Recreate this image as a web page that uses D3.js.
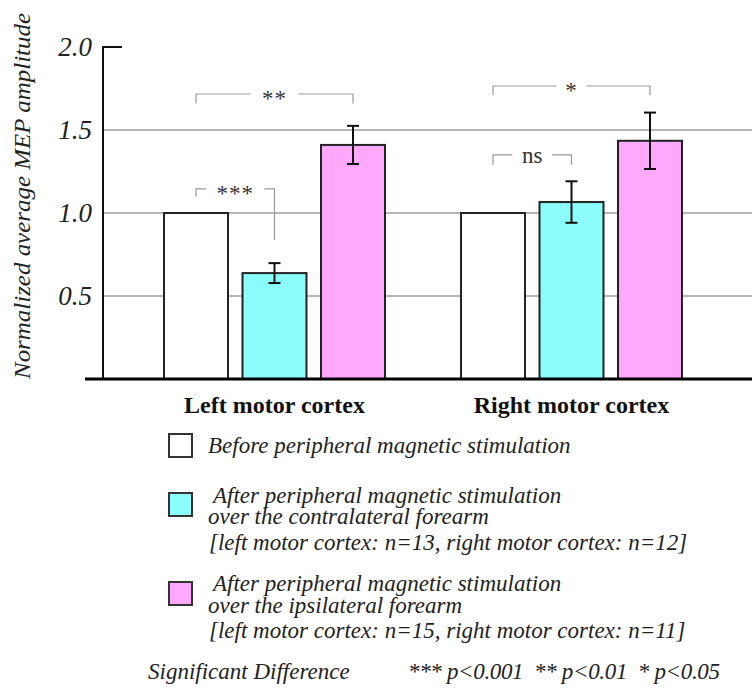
<!DOCTYPE html>
<html>
<head>
<meta charset="utf-8">
<script src="https://cdn.jsdelivr.net/npm/d3@7"></script>
<style>
  body { margin: 0; background: #ffffff; }
</style>
</head>
<body>
<div class="container"></div>
<script>
const width = 752;
const height = 688;
const serif = "'Liberation Serif'";

// data
const cortices = ["Left motor cortex", "Right motor cortex"];
const conditions = ["before", "contra", "ipsi"];
const leftValues = [1.0, 0.638, 1.41];
const leftErrors = [0, 0.06, 0.115];
const rightValues = [1.0, 1.066, 1.435];
const rightErrors = [0, 0.125, 0.17];
const yTicks = [0.5, 1.0, 1.5, 2.0];
const colors = ["#ffffff", "#8cfdfd", "#ffa8fd"];

// significance brackets: [cortex, from, to, level, left leg end, right leg end, label]
const brackets = [
    ["Left motor cortex", "before", "ipsi", 1.717, 1.66, 1.66, "**"],
    ["Left motor cortex", "before", "contra", 1.145, 1.10, 0.837, "***"],
    ["Right motor cortex", "before", "ipsi", 1.765, 1.71, 1.71, "*"],
    ["Right motor cortex", "before", "contra", 1.35, 1.29, 1.29, "ns"]
];

const legendLines = [
    ["Before peripheral magnetic stimulation"],
    ["After peripheral magnetic stimulation", "over the contralateral forearm", "[left motor cortex: n=13, right motor cortex: n=12]"],
    ["After peripheral magnetic stimulation", "over the ipsilateral forearm", "[left motor cortex: n=15, right motor cortex: n=11]"]
];

let bars = [];
cortices.forEach((c, i) => {
    const vals = i == 0 ? leftValues : rightValues;
    const errs = i == 0 ? leftErrors : rightErrors;
    conditions.forEach((k, j) => {
        bars.push({ cortex: c, cond: k, value: vals[j], err: errs[j], color: colors[j] });
    });
});

const svg = d3.select(".container")
    .append("svg")
    .attr("width", width)
    .attr("height", height);

const x0 = d3.scaleBand()
    .domain(cortices)
    .range([126, 720])
    .paddingInner(0.256)
    .paddingOuter(0.128);

const x1 = d3.scaleBand()
    .domain(conditions)
    .range([0, x0.bandwidth()])
    .paddingInner(0.185);

const y = d3.scaleLinear()
    .domain([0, 2])
    .range([379, 47]);

const axisX = 103;

// gridlines
svg.append("g")
    .selectAll("line")
    .data(yTicks.filter(t => t < 2))
    .enter()
    .append("line")
    .attr("x1", axisX)
    .attr("x2", width)
    .attr("y1", d => y(d))
    .attr("y2", d => y(d))
    .attr("stroke", "#6e6e6e")
    .attr("stroke-width", 1.2);

// bars
svg.append("g")
    .selectAll("rect")
    .data(bars)
    .enter()
    .append("rect")
    .attr("x", d => x0(d.cortex) + x1(d.cond))
    .attr("y", d => y(d.value))
    .attr("width", x1.bandwidth())
    .attr("height", d => y(0) - y(d.value))
    .attr("fill", d => d.color)
    .attr("stroke", "#222")
    .attr("stroke-width", 2);

// error bars
const eb = svg.append("g")
    .selectAll("g")
    .data(bars.filter(d => d.err > 0))
    .enter()
    .append("g")
    .attr("stroke", "#111")
    .attr("stroke-width", 2);

const cx = d => x0(d.cortex) + x1(d.cond) + x1.bandwidth() / 2;

eb.append("line")
    .attr("x1", cx).attr("x2", cx)
    .attr("y1", d => y(d.value + d.err))
    .attr("y2", d => y(d.value - d.err));
eb.append("line")
    .attr("x1", d => cx(d) - 6).attr("x2", d => cx(d) + 6)
    .attr("y1", d => y(d.value + d.err))
    .attr("y2", d => y(d.value + d.err));
eb.append("line")
    .attr("x1", d => cx(d) - 6).attr("x2", d => cx(d) + 6)
    .attr("y1", d => y(d.value - d.err))
    .attr("y2", d => y(d.value - d.err));

// y axis
svg.append("line")
    .attr("x1", axisX).attr("x2", axisX)
    .attr("y1", y(2)).attr("y2", y(0))
    .attr("stroke", "#111")
    .attr("stroke-width", 2);
svg.append("line")
    .attr("x1", axisX - 1).attr("x2", 122)
    .attr("y1", y(2)).attr("y2", y(2))
    .attr("stroke", "#111")
    .attr("stroke-width", 2);

svg.append("g")
    .selectAll("text")
    .data(yTicks)
    .enter()
    .append("text")
    .attr("x", 92)
    .attr("y", d => y(d) + 9)
    .attr("text-anchor", "end")
    .style("font-family", serif)
    .style("font-style", "italic")
    .style("font-size", "27px")
    .attr("fill", "#222")
    .text(d => d.toFixed(1));

// baseline
svg.append("line")
    .attr("x1", 85).attr("x2", width)
    .attr("y1", y(0)).attr("y2", y(0))
    .attr("stroke", "#000")
    .attr("stroke-width", 3);

svg.append("text")
    .attr("transform", "translate(30," + 196 + ") rotate(-90)")
    .attr("text-anchor", "middle")
    .style("font-family", serif)
    .style("font-style", "italic")
    .style("font-size", "24px")
    .attr("fill", "#222")
    .attr("textLength", 366)
    .attr("lengthAdjust", "spacingAndGlyphs")
    .text("Normalized average MEP amplitude");

// category labels
svg.append("g")
    .selectAll("text")
    .data(cortices)
    .enter()
    .append("text")
    .attr("x", d => x0(d) + x0.bandwidth() / 2)
    .attr("y", 413)
    .attr("text-anchor", "middle")
    .style("font-family", serif)
    .style("font-weight", "bold")
    .style("font-size", "24px")
    .attr("fill", "#111")
    .text(d => d);

// brackets
const bx = (c, k) => x0(c) + x1(k) + x1.bandwidth() / 2;
brackets.forEach(b => {
    const xa = bx(b[0], b[1]);
    const xb = bx(b[0], b[2]);
    const yl = y(b[3]);
    const mid = (xa + xb) / 2;
    const half = b[6] == "*" ? 15 : b[6] == "ns" ? 20 : b[6] == "**" ? 24 : 29;
    const g = svg.append("g")
        .attr("fill", "none")
        .attr("stroke", "#999")
        .attr("stroke-width", 1.2);
    g.append("path")
        .attr("d", `M${xa},${y(b[4])}V${yl}H${mid - half}`);
    g.append("path")
        .attr("d", `M${mid + half},${yl}H${xb}V${y(b[5])}`);
    svg.append("text")
        .attr("x", mid)
        .attr("y", b[6] == "ns" ? yl + 8 : yl + 12)
        .attr("text-anchor", "middle")
        .style("font-family", serif)
        .style("font-size", "23px")
        .style("letter-spacing", b[6] == "ns" ? "0px" : "1px")
        .attr("fill", "#333")
        .text(b[6]);
});

// legend
const legTop = [434, 493, 582];
const lineY = [[453], [503, 524, 550], [591, 613, 638]];
const lineX = [[208], [213, 208, 209], [213, 208, 209]];

legendLines.forEach((lines, i) => {
    svg.append("rect")
        .attr("x", 169)
        .attr("y", legTop[i])
        .attr("width", 23)
        .attr("height", 23)
        .attr("fill", colors[i])
        .attr("stroke", "#333")
        .attr("stroke-width", 2);
    lines.forEach((t, j) => {
        svg.append("text")
            .attr("x", lineX[i][j])
            .attr("y", lineY[i][j])
            .style("font-family", serif)
            .style("font-style", "italic")
            .style("font-size", "23px")
            .attr("fill", "#222")
            .text(t);
    });
});

svg.append("text")
    .attr("x", 148)
    .attr("y", 679)
    .style("font-family", serif)
    .style("font-style", "italic")
    .style("font-size", "23px")
    .attr("fill", "#222")
    .text("Significant Difference");

svg.append("text")
    .attr("x", 408)
    .attr("y", 679)
    .style("font-family", serif)
    .style("font-style", "italic")
    .style("font-size", "23px")
    .style("white-space", "pre")
    .attr("fill", "#222")
    .attr("textLength", 312)
    .attr("lengthAdjust", "spacing")
    .text("*** p<0.001  ** p<0.01  * p<0.05");
</script>
</body>
</html>
